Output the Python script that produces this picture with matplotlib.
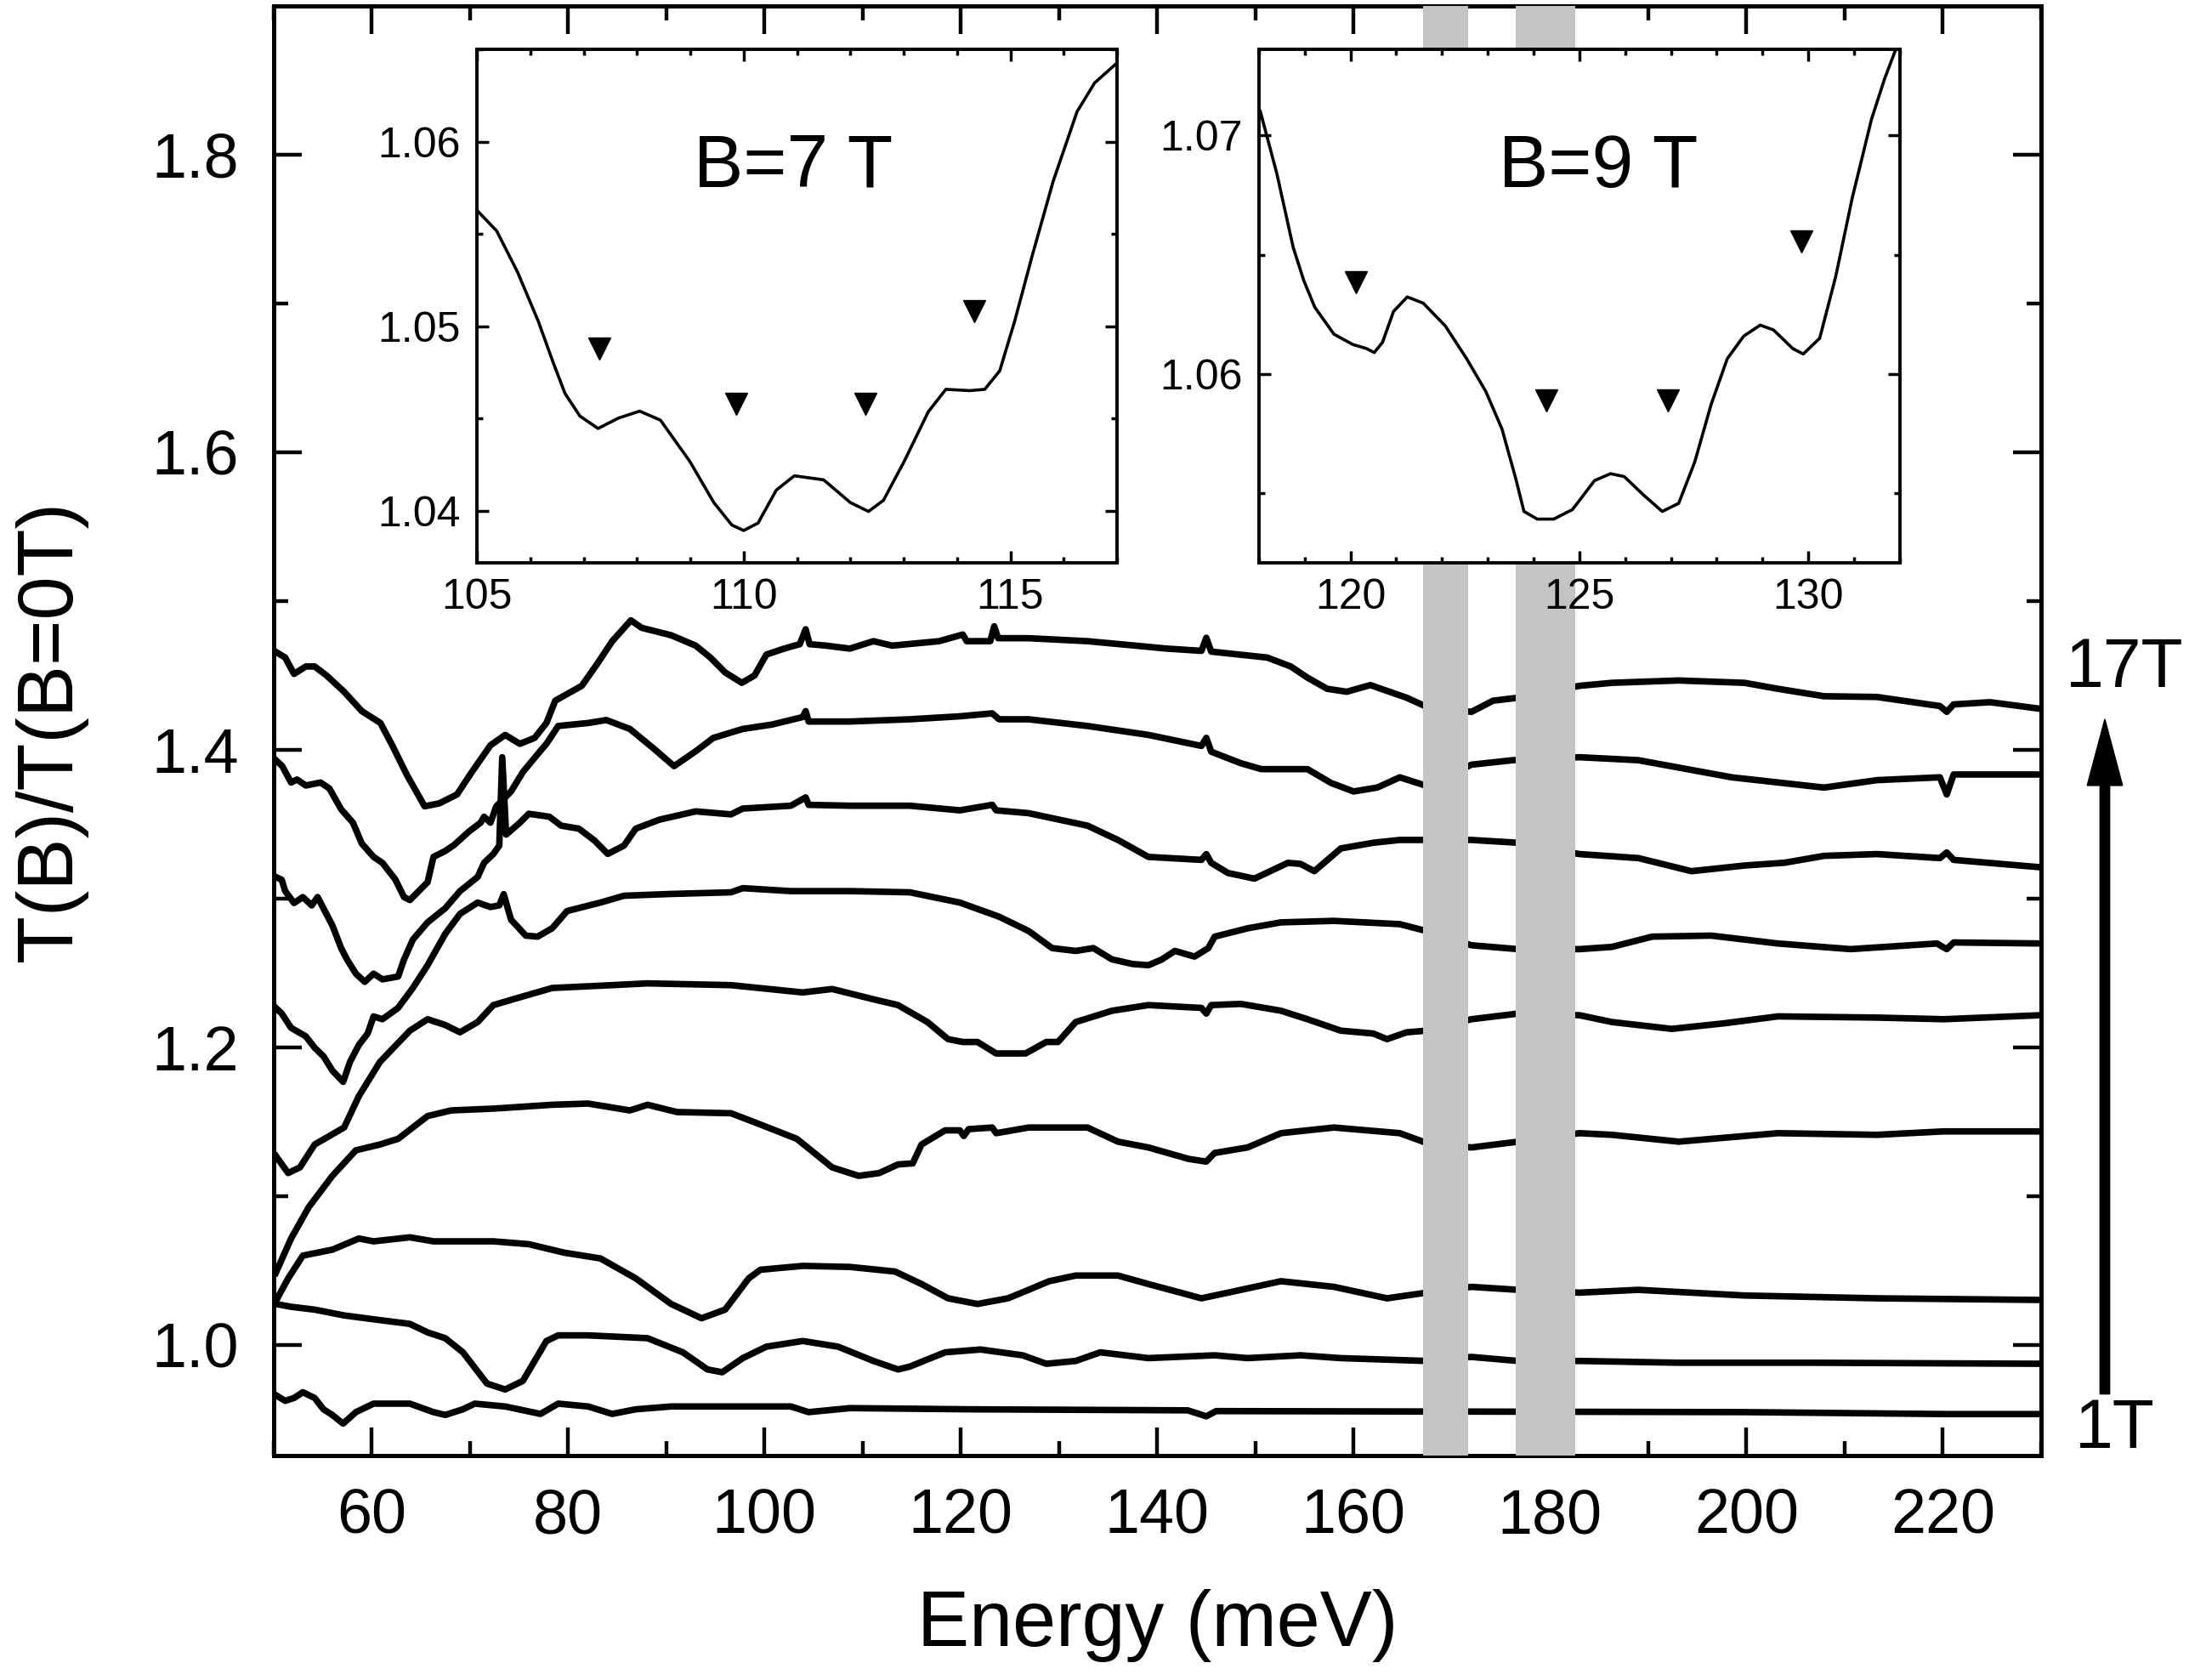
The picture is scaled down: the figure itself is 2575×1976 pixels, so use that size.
import matplotlib
matplotlib.use('Agg')
import matplotlib.pyplot as plt
from matplotlib.ticker import MultipleLocator, FormatStrFormatter

plt.rcParams['font.family'] = ['Liberation Sans', 'DejaVu Sans']

# spectra T(B)/T(0) vs energy (meV), one list of (E, T) per field
b17 = [(50.2, 1.466), (51.2, 1.462), (52.1, 1.451), (53.3, 1.456), (54.2, 1.456), (55.4, 1.450),
       (57.2, 1.439), (59.0, 1.426), (60.9, 1.418), (62.1, 1.403), (63.6, 1.383), (65.4, 1.362),
       (66.9, 1.364), (68.7, 1.370), (70.2, 1.385), (72.1, 1.403), (73.6, 1.410), (75.1, 1.404),
       (76.6, 1.408), (77.8, 1.418), (78.7, 1.433), (81.4, 1.443), (83.0, 1.458), (84.5, 1.473),
       (86.4, 1.487), (87.5, 1.482), (90.5, 1.477), (93.0, 1.470), (94.5, 1.462), (96.0, 1.452),
       (97.7, 1.445), (99.0, 1.450), (100.2, 1.464), (102.0, 1.468), (103.6, 1.471), (104.2, 1.481),
       (104.6, 1.471), (106.3, 1.470), (108.7, 1.468), (111.1, 1.473), (113.0, 1.470), (117.8, 1.473),
       (120.2, 1.4775), (120.6, 1.473), (123.0, 1.473), (123.4, 1.483), (123.8, 1.475), (126.9, 1.475),
       (132.9, 1.473), (137.8, 1.470), (141.0, 1.468), (144.5, 1.4665), (145.0, 1.4753), (145.5, 1.466),
       (151.2, 1.462), (153.6, 1.456), (155.3, 1.4485), (157.3, 1.441), (159.3, 1.439), (161.7, 1.4435),
       (165.4, 1.435), (167.4, 1.429), (172.0, 1.4255), (174.2, 1.433), (176.75, 1.435), (183.0, 1.443),
       (186.3, 1.445), (193.1, 1.4466), (199.8, 1.445), (203.2, 1.441), (207.9, 1.436), (213.3, 1.4355),
       (219.7, 1.4294), (220.4, 1.4255), (221.1, 1.4305), (224.8, 1.432), (230.0, 1.4275)]

b15 = [(50.25, 1.393), (50.9, 1.389), (51.8, 1.378), (52.4, 1.380), (53.3, 1.376), (54.8, 1.378),
       (55.7, 1.374), (56.9, 1.360), (58.1, 1.351), (59.0, 1.337), (60.2, 1.328), (61.1, 1.324),
       (62.4, 1.313), (63.3, 1.301), (63.9, 1.299), (64.8, 1.305), (65.7, 1.311), (66.3, 1.328),
       (67.5, 1.332), (68.4, 1.336), (69.9, 1.345), (71.1, 1.351), (71.45, 1.355), (72.1, 1.351),
       (72.7, 1.362), (74.2, 1.372), (75.4, 1.385), (76.9, 1.397), (77.8, 1.404), (79.0, 1.416),
       (82.05, 1.418), (83.9, 1.420), (86.3, 1.414), (88.7, 1.401), (90.8, 1.389), (93.0, 1.399),
       (94.8, 1.408), (97.8, 1.414), (100.8, 1.417), (103.9, 1.422), (104.2, 1.426), (104.5, 1.419),
       (108.7, 1.419), (114.8, 1.4205), (119.9, 1.4225), (123.2, 1.4245), (123.9, 1.4205),
       (126.9, 1.4205), (132.9, 1.416), (139.1, 1.410), (144.5, 1.4026), (145.0, 1.408),
       (145.5, 1.3987), (148.5, 1.391), (150.6, 1.387), (155.3, 1.387), (157.7, 1.3777),
       (160.0, 1.372), (162.4, 1.3746), (164.7, 1.3815), (167.4, 1.3758), (172.0, 1.390),
       (176.2, 1.393), (183.0, 1.395), (189.0, 1.393), (198.5, 1.3815), (207.9, 1.3746),
       (213.3, 1.3796), (219.7, 1.3815), (220.4, 1.370), (221.1, 1.3834), (230.0, 1.3834)]

b13 = [(50.25, 1.3145), (50.85, 1.3126), (51.2, 1.305), (52.1, 1.297), (53.0, 1.301), (53.9, 1.2954),
       (54.5, 1.301), (56.0, 1.282), (56.9, 1.2667), (57.5, 1.259), (58.4, 1.2495), (59.3, 1.244),
       (60.2, 1.2495), (61.1, 1.2457), (62.7, 1.2476), (63.3, 1.259), (64.2, 1.2724), (65.7, 1.284),
       (67.5, 1.2935), (69.0, 1.305), (70.8, 1.3145), (71.45, 1.324), (72.4, 1.330), (73.0, 1.3356),
       (73.3, 1.395), (73.7, 1.343), (75.1, 1.351), (76.0, 1.357), (78.1, 1.355), (79.3, 1.349),
       (81.1, 1.347), (82.7, 1.339), (84.05, 1.330), (85.7, 1.3356), (86.9, 1.347), (89.3, 1.353),
       (93.0, 1.3586), (96.6, 1.3566), (97.8, 1.3605), (102.7, 1.3624), (104.2, 1.368), (104.5, 1.363),
       (108.7, 1.3624), (114.8, 1.3624), (119.9, 1.3593), (123.2, 1.363), (123.6, 1.3593),
       (126.9, 1.3574), (132.9, 1.349), (136.0, 1.3394), (139.1, 1.328), (144.5, 1.326),
       (145.0, 1.3299), (145.5, 1.324), (147.2, 1.3172), (149.9, 1.3134), (153.3, 1.324),
       (154.6, 1.3233), (156.0, 1.3184), (158.7, 1.3337), (162.0, 1.3375), (164.7, 1.3394),
       (167.4, 1.3394), (172.0, 1.3394), (176.75, 1.3375), (183.0, 1.3299), (189.0, 1.3272),
       (194.4, 1.3184), (199.8, 1.3222), (203.9, 1.3241), (207.9, 1.3287), (213.3, 1.3299),
       (219.7, 1.3272), (220.4, 1.331), (221.1, 1.326), (230.0, 1.321)]

b11 = [(50.25, 1.2265), (50.85, 1.2227), (51.8, 1.2131), (53.3, 1.2074), (54.2, 1.1997), (55.1, 1.194),
       (56.0, 1.1844), (57.1, 1.1768), (57.8, 1.1902), (58.7, 1.2016), (59.6, 1.2093), (60.2, 1.2208),
       (61.1, 1.2189), (62.7, 1.2265), (64.2, 1.2399), (65.7, 1.2552), (67.5, 1.2763), (69.0, 1.2897),
       (70.8, 1.2973), (72.1, 1.2943), (73.0, 1.2954), (73.45, 1.303), (74.2, 1.2858), (75.7, 1.2751),
       (76.9, 1.2744), (78.4, 1.2801), (79.9, 1.2916), (83.3, 1.2973), (85.7, 1.3019), (90.5, 1.3031),
       (96.6, 1.3042), (97.8, 1.307), (102.7, 1.305), (108.7, 1.305), (114.8, 1.3042), (119.9, 1.2973),
       (123.9, 1.2878), (126.9, 1.2782), (129.3, 1.2667), (131.7, 1.2648), (133.5, 1.2667),
       (135.4, 1.2591), (137.5, 1.256), (139.1, 1.2552), (140.45, 1.259), (141.8, 1.2648),
       (143.8, 1.261), (145.2, 1.2667), (145.85, 1.2744), (149.2, 1.28), (152.6, 1.284),
       (158.0, 1.285), (164.7, 1.2828), (167.4, 1.2782), (172.0, 1.2686), (176.75, 1.266),
       (183.0, 1.266), (186.3, 1.2675), (190.4, 1.2744), (196.4, 1.2751), (203.2, 1.2698),
       (210.6, 1.266), (219.4, 1.2698), (220.4, 1.266), (221.1, 1.2705), (230.0, 1.2698)]

b9 = [(50.25, 1.127), (51.5, 1.1155), (52.7, 1.1193), (54.2, 1.1347), (57.2, 1.1461), (58.7, 1.1672),
      (60.85, 1.1902), (63.9, 1.2112), (65.7, 1.2189), (67.5, 1.215), (69.0, 1.2101), (70.8, 1.217),
      (72.4, 1.2284), (75.4, 1.2342), (78.4, 1.2399), (84.5, 1.2418), (88.1, 1.243), (96.6, 1.2418),
      (103.9, 1.2369), (106.9, 1.2392), (111.1, 1.2323), (113.6, 1.2284), (116.6, 1.217),
      (118.7, 1.2055), (120.2, 1.2036), (121.7, 1.2036), (123.6, 1.1959), (126.6, 1.1959),
      (128.7, 1.2036), (129.9, 1.2036), (131.7, 1.217), (135.4, 1.2246), (139.1, 1.2284),
      (144.5, 1.2265), (145.0, 1.2227), (145.5, 1.2284), (148.5, 1.2292), (152.6, 1.2246),
      (155.3, 1.2189), (158.7, 1.2112), (162.0, 1.2093), (163.4, 1.2055), (165.4, 1.2101),
      (167.4, 1.2112), (172.0, 1.2189), (176.75, 1.2227), (183.0, 1.2216), (186.3, 1.217),
      (192.4, 1.2124), (197.8, 1.2162), (203.2, 1.2208), (213.3, 1.22), (220.1, 1.2189),
      (230.0, 1.2216)]

b7 = [(50.25, 1.0485), (51.8, 1.0715), (53.6, 1.0926), (56.0, 1.1136), (58.4, 1.1308), (60.85, 1.1347),
      (62.7, 1.1385), (65.7, 1.1538), (68.1, 1.1576), (72.4, 1.1588), (78.4, 1.1614), (82.05, 1.1622),
      (86.3, 1.1576), (88.1, 1.1614), (91.1, 1.1565), (96.6, 1.1557), (99.6, 1.1481), (103.3, 1.1385),
      (105.1, 1.1289), (106.9, 1.1193), (109.6, 1.1136), (111.7, 1.1155), (113.6, 1.1213),
      (115.1, 1.122), (116.0, 1.1347), (118.4, 1.1442), (119.9, 1.1442), (120.3, 1.1404),
      (120.8, 1.145), (123.2, 1.1461), (123.6, 1.1423), (126.9, 1.1461), (132.9, 1.1461),
      (136.0, 1.1366), (139.1, 1.1327), (143.2, 1.125), (145.0, 1.1232), (145.85, 1.129),
      (149.2, 1.1327), (152.6, 1.1423), (158.0, 1.1461), (164.7, 1.1423), (167.4, 1.1358),
      (172.0, 1.1327), (176.75, 1.1366), (183.0, 1.1423), (186.3, 1.1412), (193.1, 1.1366),
      (203.2, 1.1423), (213.3, 1.1412), (220.1, 1.1435), (230.0, 1.1435)]

b5 = [(50.25, 1.0294), (51.5, 1.0447), (53.0, 1.06), (56.0, 1.064), (58.7, 1.0715), (60.2, 1.0696),
      (63.9, 1.0723), (66.3, 1.0696), (72.4, 1.0696), (76.0, 1.0677), (79.6, 1.062), (83.3, 1.0581),
      (86.9, 1.0447), (90.5, 1.0275), (93.6, 1.0179), (96.0, 1.0237), (98.4, 1.0447), (99.6, 1.0505),
      (103.9, 1.0531), (108.7, 1.0524), (113.3, 1.0493), (116.0, 1.0409), (118.7, 1.0313),
      (121.7, 1.0275), (124.8, 1.0313), (126.9, 1.037), (129.0, 1.0428), (131.7, 1.0466),
      (136.0, 1.0466), (139.1, 1.0409), (144.5, 1.0313), (147.2, 1.0351), (152.6, 1.0428),
      (158.0, 1.039), (163.4, 1.0313), (167.4, 1.0351), (172.0, 1.039), (176.75, 1.037),
      (183.0, 1.0351), (189.0, 1.037), (199.8, 1.0332), (213.3, 1.0313), (230.0, 1.0302)]

b3 = [(50.25, 1.0275), (51.8, 1.0256), (54.2, 1.0237), (57.2, 1.0198), (60.2, 1.0172), (63.9, 1.0141),
      (65.7, 1.0084), (67.5, 1.0045), (69.3, 0.995), (71.75, 0.974), (73.6, 0.970), (75.4, 0.9758),
      (77.8, 1.0026), (79.0, 1.0064), (82.05, 1.0064), (88.1, 1.0045), (91.7, 0.995), (94.2, 0.9835),
      (95.7, 0.9816), (97.8, 0.9911), (100.2, 0.9988), (103.9, 1.0026), (107.5, 0.9988),
      (111.1, 0.9892), (113.6, 0.9835), (114.8, 0.9854), (118.4, 0.995), (122.0, 0.9969),
      (126.3, 0.993), (128.7, 0.9873), (131.7, 0.9892), (134.2, 0.995), (139.1, 0.9911),
      (145.85, 0.993), (149.2, 0.9911), (154.6, 0.993), (158.7, 0.9911), (167.4, 0.9892),
      (172.0, 0.9919), (176.75, 0.9892), (183.0, 0.9892), (193.1, 0.988), (206.6, 0.988),
      (230.0, 0.9873)]

b1 = [(50.25, 0.9662), (51.2, 0.9624), (52.1, 0.9643), (53.0, 0.9682), (54.2, 0.9643), (55.1, 0.9567),
      (56.0, 0.9529), (57.1, 0.9471), (58.4, 0.9548), (60.2, 0.9605), (63.9, 0.9605), (66.3, 0.9548),
      (67.5, 0.9529), (69.3, 0.9567), (70.5, 0.9605), (73.6, 0.9586), (77.2, 0.9536), (79.0, 0.9605),
      (82.05, 0.9586), (84.5, 0.9536), (86.9, 0.9567), (90.5, 0.9586), (102.7, 0.9586),
      (104.5, 0.9548), (108.7, 0.9575), (120.8, 0.9567), (143.1, 0.956), (145.0, 0.952),
      (146.0, 0.9555), (200.0, 0.9548), (220.2, 0.9535), (230.0, 0.9535)]

spectra = [b1, b3, b5, b7, b9, b11, b13, b15, b17]

# blocked windows (meV)
bands = [(167.1, 171.7), (176.5, 182.6)]

# inset B = 7 T
in7_E = [105.0, 105.37, 105.76, 106.15, 106.43, 106.65, 106.93, 107.27, 107.65, 108.05, 108.44,
         108.99, 109.44, 109.78, 110.0, 110.27, 110.61, 110.95, 111.5, 112.0, 112.34, 112.62,
         113.01, 113.46, 113.79, 114.24, 114.52, 114.8, 115.08, 115.41, 115.8, 116.25, 116.58, 116.97]
in7_T = [1.05628, 1.05516, 1.05294, 1.05027, 1.04803, 1.04637, 1.04514, 1.04447, 1.04503, 1.04541,
         1.04492, 1.04269, 1.04046, 1.03924, 1.03895, 1.03935, 1.04113, 1.04191, 1.04169, 1.04046,
         1.03998, 1.04058, 1.04269, 1.04537, 1.04659, 1.04652, 1.04659, 1.04759, 1.05027, 1.05383,
         1.05783, 1.06162, 1.06318, 1.06418]
mk7_E = [107.3, 109.86, 112.29, 114.32]
mk7_T = [1.0488, 1.0458, 1.0458, 1.0508]

# inset B = 9 T
in9_E = [118.03, 118.39, 118.75, 118.98, 119.22, 119.64, 120.05, 120.35, 120.52, 120.7, 120.94,
         121.24, 121.59, 122.07, 122.54, 122.96, 123.31, 123.61, 123.79, 124.08, 124.44, 124.85,
         125.33, 125.68, 125.98, 126.4, 126.81, 127.17, 127.52, 127.88, 128.23, 128.59, 128.95,
         129.24, 129.66, 129.89, 130.25, 130.6, 130.96, 131.38, 131.67, 131.91]
in9_T = [1.071, 1.06841, 1.0653, 1.06392, 1.0628, 1.06167, 1.06124, 1.06107, 1.0609, 1.06133,
         1.06262, 1.06323, 1.06297, 1.06202, 1.06064, 1.05926, 1.0577, 1.05563, 1.05425, 1.05393,
         1.05393, 1.05433, 1.05554, 1.05583, 1.05571, 1.05494, 1.05425, 1.05459, 1.05632, 1.05874,
         1.06064, 1.06159, 1.06205, 1.06185, 1.06107, 1.06084, 1.0615, 1.06409, 1.06737, 1.07066,
         1.07238, 1.07359]
mk9_E = [120.11, 124.28, 126.93, 129.84]
mk9_T = [1.06383, 1.05891, 1.05891, 1.06556]

fig = plt.figure(figsize=(25.75, 19.76), dpi=100)
ax = fig.add_axes([0.1249, 0.1335, 0.8075, 0.8628])

for sp in spectra:
    ax.plot([p[0] for p in sp], [p[1] for p in sp], color='black', lw=5.5,
            solid_joinstyle='round', zorder=2)
for a, b in bands:
    ax.axvspan(a, b, color='#c4c4c4', lw=0, zorder=3)

ax.set_xlim(50, 230)
ax.set_ylim(0.9255, 1.8998)
ax.xaxis.set_major_locator(MultipleLocator(20))
ax.xaxis.set_minor_locator(MultipleLocator(10))
ax.yaxis.set_major_locator(MultipleLocator(0.2))
ax.yaxis.set_minor_locator(MultipleLocator(0.1))
ax.yaxis.set_major_formatter(FormatStrFormatter('%.1f'))
ax.tick_params(which='both', direction='in', top=True, right=True, width=3.2, labelsize=53)
ax.tick_params(which='major', length=24)
ax.tick_params(which='minor', length=12)
ax.tick_params(axis='x', pad=27)
ax.tick_params(axis='y', pad=29)
for s in ax.spines.values():
    s.set_linewidth(3.6)

ax.set_xlabel('Energy (meV)', fontsize=66)
ax.xaxis.set_label_coords(0.5, -0.092)
ax.set_ylabel('T(B)/T(B=0T)', fontsize=66)
ax.yaxis.set_label_coords(-0.105, 0.5)

ax.arrow(236.5, 0.967, 0, 0.4536, width=0.98, head_width=3.6, head_length=0.0446,
         length_includes_head=True, color='black', clip_on=False, zorder=5)
ax.text(238.5, 1.454, '17T', fontsize=58, ha='center', va='center', clip_on=False)
ax.text(237.5, 0.943, '1T', fontsize=58, ha='center', va='center', clip_on=False)


def style_inset(axi):
    axi.tick_params(which='both', direction='in', top=True, right=True, width=2.5, labelsize=36)
    axi.tick_params(which='major', length=10)
    axi.tick_params(which='minor', length=5)
    axi.tick_params(axis='x', pad=13)
    axi.tick_params(axis='y', pad=14)
    for s in axi.spines.values():
        s.set_linewidth(2.8)
    axi.xaxis.set_major_locator(MultipleLocator(5))
    axi.xaxis.set_minor_locator(MultipleLocator(1))
    axi.yaxis.set_major_locator(MultipleLocator(0.01))
    axi.yaxis.set_minor_locator(MultipleLocator(0.005))
    axi.yaxis.set_major_formatter(FormatStrFormatter('%.2f'))


ax1 = fig.add_axes([0.2179, 0.665, 0.2924, 0.3057], zorder=5)
ax1.plot(in7_E, in7_T, color='black', lw=2.6)
ax1.plot(mk7_E, mk7_T, 'v', color='black', ms=19)
ax1.set_xlim(105, 117)
ax1.set_ylim(1.0372, 1.065)
style_inset(ax1)
ax1.text(0.494, 0.769, 'B=7 T', transform=ax1.transAxes, fontsize=63, ha='center', va='center')

ax2 = fig.add_axes([0.5751, 0.665, 0.2928, 0.3057], zorder=5)
ax2.plot(in9_E, in9_T, color='black', lw=2.6)
ax2.plot(mk9_E, mk9_T, 'v', color='black', ms=19)
ax2.set_xlim(118, 132)
ax2.set_ylim(1.0521, 1.0736)
style_inset(ax2)
ax2.text(0.529, 0.769, 'B=9 T', transform=ax2.transAxes, fontsize=63, ha='center', va='center')

fig.savefig('out.png', dpi=100)
